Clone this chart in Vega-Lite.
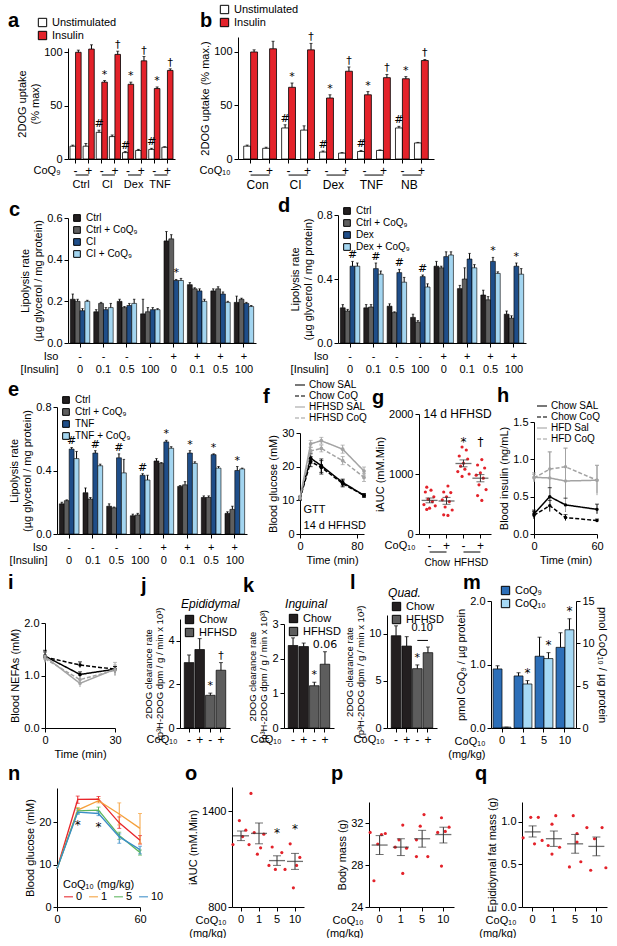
{
"$schema":"https://vega.github.io/schema/vega-lite/v6.json",
"background":"white",
"padding":{"left":8,"top":4,"right":0,"bottom":0},
"config":{
 "font":"Liberation Sans",
 "view":{"stroke":null},
 "axis":{"grid":false,"domainColor":"#000","tickColor":"#000","labelColor":"#000","titleColor":"#000","labelFontSize":11,"titleFontSize":11,"titleFontWeight":"normal","tickSize":4,"labelPadding":2,"titlePadding":3,"labelOverlap":false,"labelFlush":false,"labelAngle":0},
 "legend":{"labelFontSize":11,"titleFontSize":11,"titleFontWeight":"normal","rowPadding":0,"labelColor":"#000","titleColor":"#000","padding":0},
 "title":{"anchor":"start","frame":"group","fontSize":20,"fontWeight":"bold","color":"#000","offset":2},
 "text":{"fontSize":11,"color":"#000"}
},
"columns":1,
"spacing":5,
"resolve":{"scale":{"x":"independent","y":"independent","xOffset":"independent","fill":"independent","color":"independent","strokeDash":"independent","shape":"independent"}},
"concat":[
{"spacing":24,
 "resolve":{"scale":{"x":"independent","y":"independent","xOffset":"independent","fill":"independent","color":"independent","strokeDash":"independent","shape":"independent"}},
 "hconcat":[
 {"title":{"text":"a","dx":-60,"dy":16},
  "width":107,"height":122,
  "data":{"values":[
   {"p":"Ctrl -","s":"Unstimulated","v":12,"hi":13},
   {"p":"Ctrl -","s":"Insulin","v":100,"hi":102},
   {"p":"Ctrl +","s":"Unstimulated","v":12,"hi":14.5},
   {"p":"Ctrl +","s":"Insulin","v":103,"hi":107},
   {"p":"CI -","s":"Unstimulated","v":25,"hi":27,"mk":"#"},
   {"p":"CI -","s":"Insulin","v":72,"hi":73.5,"mk":"*"},
   {"p":"CI +","s":"Unstimulated","v":21,"hi":22.5},
   {"p":"CI +","s":"Insulin","v":98,"hi":101,"mk":"†"},
   {"p":"Dex -","s":"Unstimulated","v":6,"hi":7,"mk":"#"},
   {"p":"Dex -","s":"Insulin","v":70,"hi":72,"mk":"*"},
   {"p":"Dex +","s":"Unstimulated","v":8,"hi":9},
   {"p":"Dex +","s":"Insulin","v":92,"hi":96,"mk":"†"},
   {"p":"TNF -","s":"Unstimulated","v":9,"hi":10,"mk":"#"},
   {"p":"TNF -","s":"Insulin","v":66,"hi":67.5,"mk":"*"},
   {"p":"TNF +","s":"Unstimulated","v":11,"hi":11.5},
   {"p":"TNF +","s":"Insulin","v":83,"hi":84.5,"mk":"†"}
  ]},
  "layer":[
   {"mark":{"type":"bar","stroke":"#000","strokeWidth":0.8},
    "encoding":{
     "x":{"field":"p","type":"nominal","scale":{"domain":["Ctrl -","Ctrl +","CI -","CI +","Dex -","Dex +","TNF -","TNF +"],"paddingInner":0.15,"paddingOuter":0.15},"axis":{"title":"CoQ₉","labelExpr":"slice(datum.label,-1)","labelFontSize":12,"titleX":-8,"titleY":11,"titleAlign":"right","titleBaseline":"middle"}},
     "xOffset":{"field":"s","type":"nominal","scale":{"domain":["Unstimulated","Insulin"],"paddingInner":0}},
     "y":{"field":"v","type":"quantitative","scale":{"domain":[0,104],"range":[122,11],"nice":false},"axis":{"values":[0,50,100],"title":["2DOG uptake","(% max)"]}},
     "fill":{"field":"s","type":"nominal","scale":{"domain":["Unstimulated","Insulin"],"range":["#ffffff","#e3222a"]},"legend":{"orient":"none","legendX":-31,"legendY":-20,"title":null,"symbolType":"square","symbolSize":70,"symbolStrokeColor":"#000","symbolStrokeWidth":1}}
    }},
   {"mark":{"type":"rule","color":"#000"},"encoding":{"x":{"field":"p","type":"nominal"},"xOffset":{"field":"s","type":"nominal"},"y":{"field":"v","type":"quantitative"},"y2":{"field":"hi"}}},
   {"mark":{"type":"tick","color":"#000","size":3,"thickness":1},"encoding":{"x":{"field":"p","type":"nominal"},"xOffset":{"field":"s","type":"nominal"},"y":{"field":"hi","type":"quantitative"}}},
   {"transform":[{"filter":"isValid(datum.mk)"}],"mark":{"type":"text","dy":-6,"fontSize":11,"font":"DejaVu Sans","color":"#000"},"encoding":{"x":{"field":"p","type":"nominal"},"xOffset":{"field":"s","type":"nominal"},"y":{"field":"hi","type":"quantitative"},"text":{"field":"mk"}}},
   {"data":{"values":[{"p":"Ctrl -","q":"Ctrl +","g":"Ctrl"},{"p":"CI -","q":"CI +","g":"CI"},{"p":"Dex -","q":"Dex +","g":"Dex"},{"p":"TNF -","q":"TNF +","g":"TNF"}]},
    "layer":[
     {"mark":{"type":"rule","color":"#000"},"encoding":{"x":{"field":"p","type":"nominal"},"x2":{"field":"q"},"y":{"datum":-15}}},
     {"mark":{"type":"text","fontSize":11,"baseline":"middle","color":"#000"},"encoding":{"x":{"field":"p","type":"nominal","bandPosition":1},"y":{"datum":-24},"text":{"field":"g"}}}
    ]}
  ]},
 {"title":{"text":"b","dx":-38,"dy":29},
  "width":196,"height":122,
  "data":{"values":[
   {"p":"Con -","s":"Unstimulated","v":12,"hi":13},
   {"p":"Con -","s":"Insulin","v":100,"hi":102},
   {"p":"Con +","s":"Unstimulated","v":10,"hi":11},
   {"p":"Con +","s":"Insulin","v":103,"hi":110},
   {"p":"CI -","s":"Unstimulated","v":29,"hi":32,"mk":"#"},
   {"p":"CI -","s":"Insulin","v":67,"hi":71,"mk":"*"},
   {"p":"CI +","s":"Unstimulated","v":27,"hi":31},
   {"p":"CI +","s":"Insulin","v":102,"hi":108,"mk":"†"},
   {"p":"Dex -","s":"Unstimulated","v":6.5,"hi":7.5,"mk":"#"},
   {"p":"Dex -","s":"Insulin","v":57,"hi":60,"mk":"*"},
   {"p":"Dex +","s":"Unstimulated","v":5.5,"hi":6},
   {"p":"Dex +","s":"Insulin","v":82,"hi":86,"mk":"†"},
   {"p":"TNF -","s":"Unstimulated","v":7,"hi":8,"mk":"#"},
   {"p":"TNF -","s":"Insulin","v":60,"hi":63,"mk":"*"},
   {"p":"TNF +","s":"Unstimulated","v":8,"hi":8.5},
   {"p":"TNF +","s":"Insulin","v":76,"hi":79,"mk":"†"},
   {"p":"NB -","s":"Unstimulated","v":29,"hi":30.5,"mk":"#"},
   {"p":"NB -","s":"Insulin","v":75,"hi":77,"mk":"*"},
   {"p":"NB +","s":"Unstimulated","v":15,"hi":15.5},
   {"p":"NB +","s":"Insulin","v":92,"hi":93,"mk":"†"}
  ]},
  "layer":[
   {"mark":{"type":"bar","stroke":"#000","strokeWidth":0.8},
    "encoding":{
     "x":{"field":"p","type":"nominal","scale":{"domain":["Con -","Con +","CI -","CI +","Dex -","Dex +","TNF -","TNF +","NB -","NB +"],"paddingInner":0.27,"paddingOuter":0.3},"axis":{"title":"CoQ₁₀","labelExpr":"slice(datum.label,-1)","labelFontSize":12,"titleX":-8,"titleY":11,"titleAlign":"right","titleBaseline":"middle"}},
     "xOffset":{"field":"s","type":"nominal","scale":{"domain":["Unstimulated","Insulin"],"paddingInner":0}},
     "y":{"field":"v","type":"quantitative","scale":{"domain":[0,114],"range":[122,0],"nice":false},"axis":{"values":[0,50,100],"title":"2DOG uptake (% max.)"}},
     "fill":{"field":"s","type":"nominal","scale":{"domain":["Unstimulated","Insulin"],"range":["#ffffff","#e3222a"]},"legend":{"orient":"none","legendX":-19,"legendY":-33,"title":null,"symbolType":"square","symbolSize":70,"symbolStrokeColor":"#000","symbolStrokeWidth":1}}
    }},
   {"mark":{"type":"rule","color":"#000"},"encoding":{"x":{"field":"p","type":"nominal"},"xOffset":{"field":"s","type":"nominal"},"y":{"field":"v","type":"quantitative"},"y2":{"field":"hi"}}},
   {"mark":{"type":"tick","color":"#000","size":3,"thickness":1},"encoding":{"x":{"field":"p","type":"nominal"},"xOffset":{"field":"s","type":"nominal"},"y":{"field":"hi","type":"quantitative"}}},
   {"transform":[{"filter":"isValid(datum.mk)"}],"mark":{"type":"text","dy":-6,"fontSize":11,"font":"DejaVu Sans","color":"#000"},"encoding":{"x":{"field":"p","type":"nominal"},"xOffset":{"field":"s","type":"nominal"},"y":{"field":"hi","type":"quantitative"},"text":{"field":"mk"}}},
   {"data":{"values":[{"p":"Con -","q":"Con +","g":"Con"},{"p":"CI -","q":"CI +","g":"CI"},{"p":"Dex -","q":"Dex +","g":"Dex"},{"p":"TNF -","q":"TNF +","g":"TNF"},{"p":"NB -","q":"NB +","g":"NB"}]},
    "layer":[
     {"mark":{"type":"rule","color":"#000"},"encoding":{"x":{"field":"p","type":"nominal"},"x2":{"field":"q"},"y":{"datum":-15}}},
     {"mark":{"type":"text","fontSize":12,"baseline":"middle","color":"#000"},"encoding":{"x":{"field":"p","type":"nominal","bandPosition":1},"y":{"datum":-24},"text":{"field":"g"}}}
    ]}
  ]}
 ]},
{"spacing":22,
 "resolve":{"scale":{"x":"independent","y":"independent","xOffset":"independent","fill":"independent","color":"independent","strokeDash":"independent","shape":"independent"}},
 "hconcat":[
 {"title":{"text":"c","dx":-59,"dy":10},
  "width":188,"height":128,
  "data":{"values":[
   {"c":"-|0","s":"Ctrl","v":0.21,"hi":0.235},{"c":"-|0","s":"Ctrl + CoQ₉","v":0.2,"hi":0.21},{"c":"-|0","s":"CI","v":0.155,"hi":0.165},{"c":"-|0","s":"CI + CoQ₉","v":0.2,"hi":0.205},
   {"c":"-|0.1","s":"Ctrl","v":0.15,"hi":0.16},{"c":"-|0.1","s":"Ctrl + CoQ₉","v":0.19,"hi":0.195},{"c":"-|0.1","s":"CI","v":0.16,"hi":0.17},{"c":"-|0.1","s":"CI + CoQ₉","v":0.17,"hi":0.19},
   {"c":"-|0.5","s":"Ctrl","v":0.2,"hi":0.21},{"c":"-|0.5","s":"Ctrl + CoQ₉","v":0.17,"hi":0.175},{"c":"-|0.5","s":"CI","v":0.18,"hi":0.19},{"c":"-|0.5","s":"CI + CoQ₉","v":0.19,"hi":0.21},
   {"c":"-|100","s":"Ctrl","v":0.14,"hi":0.21},{"c":"-|100","s":"Ctrl + CoQ₉","v":0.15,"hi":0.17},{"c":"-|100","s":"CI","v":0.16,"hi":0.17},{"c":"-|100","s":"CI + CoQ₉","v":0.16,"hi":0.165},
   {"c":"+|0","s":"Ctrl","v":0.49,"hi":0.535},{"c":"+|0","s":"Ctrl + CoQ₉","v":0.5,"hi":0.52},{"c":"+|0","s":"CI","v":0.3,"hi":0.305,"mk":"*"},{"c":"+|0","s":"CI + CoQ₉","v":0.3,"hi":0.31},
   {"c":"+|0.1","s":"Ctrl","v":0.28,"hi":0.29},{"c":"+|0.1","s":"Ctrl + CoQ₉","v":0.26,"hi":0.265},{"c":"+|0.1","s":"CI","v":0.25,"hi":0.26},{"c":"+|0.1","s":"CI + CoQ₉","v":0.2,"hi":0.21},
   {"c":"+|0.5","s":"Ctrl","v":0.25,"hi":0.26},{"c":"+|0.5","s":"Ctrl + CoQ₉","v":0.26,"hi":0.27},{"c":"+|0.5","s":"CI","v":0.235,"hi":0.245},{"c":"+|0.5","s":"CI + CoQ₉","v":0.195,"hi":0.2},
   {"c":"+|100","s":"Ctrl","v":0.195,"hi":0.225},{"c":"+|100","s":"Ctrl + CoQ₉","v":0.21,"hi":0.215},{"c":"+|100","s":"CI","v":0.19,"hi":0.195},{"c":"+|100","s":"CI + CoQ₉","v":0.175,"hi":0.18}
  ]},
  "layer":[
   {"mark":{"type":"bar","stroke":"#000","strokeWidth":0.6},
    "encoding":{
     "x":{"field":"c","type":"nominal","scale":{"domain":["-|0","-|0.1","-|0.5","-|100","+|0","+|0.1","+|0.5","+|100"],"paddingInner":0.17,"paddingOuter":0.1},"axis":{"title":["Iso","[Insulin]"],"labelExpr":"split(datum.value,'|')","labelLineHeight":13,"labelPadding":3,"titleX":-10,"titleY":7,"titleAlign":"right","titleBaseline":"top","titleLineHeight":13}},
     "xOffset":{"field":"s","type":"nominal","scale":{"domain":["Ctrl","Ctrl + CoQ₉","CI","CI + CoQ₉"],"paddingInner":0}},
     "y":{"field":"v","type":"quantitative","scale":{"domain":[0,0.6],"range":[128,3],"nice":false},"axis":{"values":[0,0.2,0.4,0.6],"format":".1f","title":["Lipolysis rate","(µg glycerol / mg protein)"]}},
     "fill":{"field":"s","type":"nominal","scale":{"domain":["Ctrl","Ctrl + CoQ₉","CI","CI + CoQ₉"],"range":["#231f20","#5f5f5f","#1f4e89","#a3d5f0"]},"legend":{"orient":"none","legendX":4,"legendY":-2,"title":null,"symbolType":"square","symbolSize":45,"symbolStrokeColor":"#000","symbolStrokeWidth":1,"labelFontSize":10,"rowPadding":0}}
    }},
   {"mark":{"type":"rule","color":"#000"},"encoding":{"x":{"field":"c","type":"nominal"},"xOffset":{"field":"s","type":"nominal"},"y":{"field":"v","type":"quantitative"},"y2":{"field":"hi"}}},
   {"mark":{"type":"tick","color":"#000","size":2.5,"thickness":1},"encoding":{"x":{"field":"c","type":"nominal"},"xOffset":{"field":"s","type":"nominal"},"y":{"field":"hi","type":"quantitative"}}},
   {"transform":[{"filter":"isValid(datum.mk)"}],"mark":{"type":"text","dy":-6,"fontSize":11,"font":"DejaVu Sans","color":"#000"},"encoding":{"x":{"field":"c","type":"nominal"},"xOffset":{"field":"s","type":"nominal"},"y":{"field":"hi","type":"quantitative"},"text":{"field":"mk"}}}
  ]},
 {"title":{"text":"d","dx":-60,"dy":12},
  "width":188,"height":128,
  "data":{"values":[
   {"c":"-|0","s":"Ctrl","v":0.22,"hi":0.24},{"c":"-|0","s":"Ctrl + CoQ₉","v":0.2,"hi":0.21},{"c":"-|0","s":"Dex","v":0.48,"hi":0.51,"mk":"#"},{"c":"-|0","s":"Dex + CoQ₉","v":0.48,"hi":0.5},
   {"c":"-|0.1","s":"Ctrl","v":0.22,"hi":0.24},{"c":"-|0.1","s":"Ctrl + CoQ₉","v":0.225,"hi":0.24},{"c":"-|0.1","s":"Dex","v":0.465,"hi":0.5,"mk":"#"},{"c":"-|0.1","s":"Dex + CoQ₉","v":0.43,"hi":0.45},
   {"c":"-|0.5","s":"Ctrl","v":0.23,"hi":0.245},{"c":"-|0.5","s":"Ctrl + CoQ₉","v":0.19,"hi":0.195},{"c":"-|0.5","s":"Dex","v":0.44,"hi":0.46,"mk":"#"},{"c":"-|0.5","s":"Dex + CoQ₉","v":0.38,"hi":0.41},
   {"c":"-|100","s":"Ctrl","v":0.16,"hi":0.18},{"c":"-|100","s":"Ctrl + CoQ₉","v":0.13,"hi":0.14},{"c":"-|100","s":"Dex","v":0.415,"hi":0.425,"mk":"#"},{"c":"-|100","s":"Dex + CoQ₉","v":0.35,"hi":0.37},
   {"c":"+|0","s":"Ctrl","v":0.48,"hi":0.51},{"c":"+|0","s":"Ctrl + CoQ₉","v":0.47,"hi":0.48},{"c":"+|0","s":"Dex","v":0.54,"hi":0.57},{"c":"+|0","s":"Dex + CoQ₉","v":0.55,"hi":0.57},
   {"c":"+|0.1","s":"Ctrl","v":0.34,"hi":0.36},{"c":"+|0.1","s":"Ctrl + CoQ₉","v":0.4,"hi":0.47},{"c":"+|0.1","s":"Dex","v":0.525,"hi":0.56},{"c":"+|0.1","s":"Dex + CoQ₉","v":0.47,"hi":0.49},
   {"c":"+|0.5","s":"Ctrl","v":0.3,"hi":0.33},{"c":"+|0.5","s":"Ctrl + CoQ₉","v":0.27,"hi":0.29},{"c":"+|0.5","s":"Dex","v":0.51,"hi":0.535,"mk":"*"},{"c":"+|0.5","s":"Dex + CoQ₉","v":0.435,"hi":0.445},
   {"c":"+|100","s":"Ctrl","v":0.18,"hi":0.2},{"c":"+|100","s":"Ctrl + CoQ₉","v":0.155,"hi":0.17},{"c":"+|100","s":"Dex","v":0.48,"hi":0.5,"mk":"*"},{"c":"+|100","s":"Dex + CoQ₉","v":0.43,"hi":0.465}
  ]},
  "layer":[
   {"mark":{"type":"bar","stroke":"#000","strokeWidth":0.6},
    "encoding":{
     "x":{"field":"c","type":"nominal","scale":{"domain":["-|0","-|0.1","-|0.5","-|100","+|0","+|0.1","+|0.5","+|100"],"paddingInner":0.17,"paddingOuter":0.1},"axis":{"title":["Iso","[Insulin]"],"labelExpr":"split(datum.value,'|')","labelLineHeight":13,"labelPadding":3,"titleX":-10,"titleY":7,"titleAlign":"right","titleBaseline":"top","titleLineHeight":13}},
     "xOffset":{"field":"s","type":"nominal","scale":{"domain":["Ctrl","Ctrl + CoQ₉","Dex","Dex + CoQ₉"],"paddingInner":0}},
     "y":{"field":"v","type":"quantitative","scale":{"domain":[0,0.8],"range":[128,0],"nice":false},"axis":{"values":[0,0.2,0.4,0.6,0.8],"format":".1f","title":["Lipolysis rate","(µg glycerol / mg protein)"]}},
     "fill":{"field":"s","type":"nominal","scale":{"domain":["Ctrl","Ctrl + CoQ₉","Dex","Dex + CoQ₉"],"range":["#231f20","#5f5f5f","#1f4e89","#a3d5f0"]},"legend":{"orient":"none","legendX":4,"legendY":-9,"title":null,"symbolType":"square","symbolSize":45,"symbolStrokeColor":"#000","symbolStrokeWidth":1,"labelFontSize":10,"rowPadding":0}}
    }},
   {"mark":{"type":"rule","color":"#000"},"encoding":{"x":{"field":"c","type":"nominal"},"xOffset":{"field":"s","type":"nominal"},"y":{"field":"v","type":"quantitative"},"y2":{"field":"hi"}}},
   {"mark":{"type":"tick","color":"#000","size":2.5,"thickness":1},"encoding":{"x":{"field":"c","type":"nominal"},"xOffset":{"field":"s","type":"nominal"},"y":{"field":"hi","type":"quantitative"}}},
   {"transform":[{"filter":"isValid(datum.mk)"}],"mark":{"type":"text","dy":-6,"fontSize":11,"font":"DejaVu Sans","color":"#000"},"encoding":{"x":{"field":"c","type":"nominal"},"xOffset":{"field":"s","type":"nominal"},"y":{"field":"hi","type":"quantitative"},"text":{"field":"mk"}}}
  ]}
 ]},
{"spacing":5,
 "resolve":{"scale":{"x":"independent","y":"independent","xOffset":"independent","fill":"independent","color":"independent","strokeDash":"independent","shape":"independent"}},
 "hconcat":[
 {"title":{"text":"e","dx":-60,"dy":7},
  "width":179,"height":130,
  "data":{"values":[
   {"c":"-|0","s":"Ctrl","v":0.19,"hi":0.2},{"c":"-|0","s":"Ctrl + CoQ₉","v":0.21,"hi":0.215},{"c":"-|0","s":"TNF","v":0.535,"hi":0.545,"mk":"#"},{"c":"-|0","s":"TNF + CoQ₉","v":0.475,"hi":0.52},
   {"c":"-|0.1","s":"Ctrl","v":0.26,"hi":0.29},{"c":"-|0.1","s":"Ctrl + CoQ₉","v":0.22,"hi":0.23},{"c":"-|0.1","s":"TNF","v":0.51,"hi":0.525,"mk":"#"},{"c":"-|0.1","s":"TNF + CoQ₉","v":0.43,"hi":0.44},
   {"c":"-|0.5","s":"Ctrl","v":0.175,"hi":0.19},{"c":"-|0.5","s":"Ctrl + CoQ₉","v":0.165,"hi":0.17},{"c":"-|0.5","s":"TNF","v":0.48,"hi":0.505,"mk":"#"},{"c":"-|0.5","s":"TNF + CoQ₉","v":0.385,"hi":0.47},
   {"c":"-|100","s":"Ctrl","v":0.115,"hi":0.125},{"c":"-|100","s":"Ctrl + CoQ₉","v":0.12,"hi":0.13},{"c":"-|100","s":"TNF","v":0.37,"hi":0.38,"mk":"#"},{"c":"-|100","s":"TNF + CoQ₉","v":0.34,"hi":0.37},
   {"c":"+|0","s":"Ctrl","v":0.46,"hi":0.475},{"c":"+|0","s":"Ctrl + CoQ₉","v":0.445,"hi":0.45},{"c":"+|0","s":"TNF","v":0.58,"hi":0.59,"mk":"*"},{"c":"+|0","s":"TNF + CoQ₉","v":0.54,"hi":0.55},
   {"c":"+|0.1","s":"Ctrl","v":0.3,"hi":0.305},{"c":"+|0.1","s":"Ctrl + CoQ₉","v":0.31,"hi":0.33},{"c":"+|0.1","s":"TNF","v":0.51,"hi":0.525,"mk":"*"},{"c":"+|0.1","s":"TNF + CoQ₉","v":0.445,"hi":0.455},
   {"c":"+|0.5","s":"Ctrl","v":0.23,"hi":0.24},{"c":"+|0.5","s":"Ctrl + CoQ₉","v":0.23,"hi":0.24},{"c":"+|0.5","s":"TNF","v":0.5,"hi":0.505,"mk":"*"},{"c":"+|0.5","s":"TNF + CoQ₉","v":0.415,"hi":0.425},
   {"c":"+|100","s":"Ctrl","v":0.13,"hi":0.14},{"c":"+|100","s":"Ctrl + CoQ₉","v":0.155,"hi":0.175},{"c":"+|100","s":"TNF","v":0.4,"hi":0.425,"mk":"*"},{"c":"+|100","s":"TNF + CoQ₉","v":0.41,"hi":0.415}
  ]},
  "layer":[
   {"mark":{"type":"bar","stroke":"#000","strokeWidth":0.6},
    "encoding":{
     "x":{"field":"c","type":"nominal","scale":{"domain":["-|0","-|0.1","-|0.5","-|100","+|0","+|0.1","+|0.5","+|100"],"range":[-11,179],"paddingInner":0.17,"paddingOuter":0.1},"axis":{"title":["Iso","[Insulin]"],"labelExpr":"split(datum.value,'|')","labelLineHeight":13,"labelPadding":3,"titleX":-21,"titleY":7,"titleAlign":"right","titleBaseline":"top","titleLineHeight":13}},
     "xOffset":{"field":"s","type":"nominal","scale":{"domain":["Ctrl","Ctrl + CoQ₉","TNF","TNF + CoQ₉"],"paddingInner":0}},
     "y":{"field":"v","type":"quantitative","scale":{"domain":[0,0.8],"range":[130,3],"nice":false},"axis":{"offset":11,"values":[0,0.2,0.4,0.6,0.8],"format":".1f","title":["Lipolysis rate","(µg glycerol / mg protein)"]}},
     "fill":{"field":"s","type":"nominal","scale":{"domain":["Ctrl","Ctrl + CoQ₉","TNF","TNF + CoQ₉"],"range":["#231f20","#5f5f5f","#1f4e89","#a3d5f0"]},"legend":{"orient":"none","legendX":-7,"legendY":-9,"title":null,"symbolType":"square","symbolSize":45,"symbolStrokeColor":"#000","symbolStrokeWidth":1,"labelFontSize":10,"rowPadding":0}}
    }},
   {"mark":{"type":"rule","color":"#000"},"encoding":{"x":{"field":"c","type":"nominal"},"xOffset":{"field":"s","type":"nominal"},"y":{"field":"v","type":"quantitative"},"y2":{"field":"hi"}}},
   {"mark":{"type":"tick","color":"#000","size":2.5,"thickness":1},"encoding":{"x":{"field":"c","type":"nominal"},"xOffset":{"field":"s","type":"nominal"},"y":{"field":"hi","type":"quantitative"}}},
   {"transform":[{"filter":"isValid(datum.mk)"}],"mark":{"type":"text","dy":-6,"fontSize":11,"font":"DejaVu Sans","color":"#000"},"encoding":{"x":{"field":"c","type":"nominal"},"xOffset":{"field":"s","type":"nominal"},"y":{"field":"hi","type":"quantitative"},"text":{"field":"mk"}}}
  ]},
 {"title":{"text":"f","dx":-37,"dy":30},
  "width":64,"height":130,
  "data":{"values":[
   {"s":"Chow SAL","t":0,"v":10.7,"lo":10.2,"hi":11.2},{"s":"Chow SAL","t":15,"v":22.5,"lo":21,"hi":24},{"s":"Chow SAL","t":30,"v":20.3,"lo":18.3,"hi":22.3},{"s":"Chow SAL","t":60,"v":15.3,"lo":14.3,"hi":16.3},{"s":"Chow SAL","t":90,"v":11.5,"lo":11,"hi":12},
   {"s":"Chow CoQ","t":0,"v":10.5,"lo":10,"hi":11},{"s":"Chow CoQ","t":15,"v":21.5,"lo":20,"hi":23},{"s":"Chow CoQ","t":30,"v":19.8,"lo":17.8,"hi":21.8},{"s":"Chow CoQ","t":60,"v":15,"lo":14,"hi":16},{"s":"Chow CoQ","t":90,"v":11.4,"lo":10.9,"hi":11.9},
   {"s":"HFHSD SAL","t":0,"v":10.8,"lo":10.3,"hi":11.3},{"s":"HFHSD SAL","t":15,"v":26.8,"lo":25.8,"hi":27.8},{"s":"HFHSD SAL","t":30,"v":27.7,"lo":26.7,"hi":28.7},{"s":"HFHSD SAL","t":60,"v":25.2,"lo":24,"hi":26.4},{"s":"HFHSD SAL","t":90,"v":18.7,"lo":17.5,"hi":19.9},
   {"s":"HFHSD CoQ","t":0,"v":10.6,"lo":10.1,"hi":11.1},{"s":"HFHSD CoQ","t":15,"v":24.7,"lo":23.7,"hi":25.7},{"s":"HFHSD CoQ","t":30,"v":25.4,"lo":24.4,"hi":26.4},{"s":"HFHSD CoQ","t":60,"v":21.8,"lo":20.6,"hi":23},{"s":"HFHSD CoQ","t":90,"v":16.8,"lo":15.6,"hi":18}
  ]},
  "layer":[
   {"mark":{"type":"rule","strokeWidth":1},"encoding":{
     "x":{"field":"t","type":"quantitative","scale":{"domain":[0,90],"nice":false},"axis":{"values":[0,20,40,60,80],"title":"Time (min)"}},
     "y":{"field":"lo","type":"quantitative","scale":{"domain":[0,30],"range":[130,29],"nice":false},"axis":{"values":[0,10,20,30],"title":"Blood glucose (mM)"}},
     "y2":{"field":"hi"},
     "color":{"field":"s","type":"nominal","scale":{"domain":["Chow SAL","Chow CoQ","HFHSD SAL","HFHSD CoQ"],"range":["#000000","#000000","#a3a3a3","#a3a3a3"]}}}},
   {"mark":{"type":"tick","orient":"horizontal","size":4,"thickness":1},"encoding":{"x":{"field":"t","type":"quantitative"},"y":{"field":"hi","type":"quantitative"},"color":{"field":"s","type":"nominal"}}},
   {"mark":{"type":"tick","orient":"horizontal","size":4,"thickness":1},"encoding":{"x":{"field":"t","type":"quantitative"},"y":{"field":"lo","type":"quantitative"},"color":{"field":"s","type":"nominal"}}},
   {"mark":{"type":"line","strokeWidth":1.5,"point":{"size":14,"filled":true}},"encoding":{
     "x":{"field":"t","type":"quantitative"},
     "y":{"field":"v","type":"quantitative"},
     "color":{"field":"s","type":"nominal","legend":{"orient":"none","legendX":-6,"legendY":-25,"title":null,"symbolType":"stroke","symbolSize":100,"symbolStrokeWidth":1.5,"labelFontSize":10,"labelOffset":3,"rowPadding":0}},
     "strokeDash":{"field":"s","type":"nominal","scale":{"domain":["Chow SAL","Chow CoQ","HFHSD SAL","HFHSD CoQ"],"range":[[1,0],[4,2],[1,0],[4,2]]},"legend":{"orient":"none","legendX":-6,"legendY":-25,"title":null,"symbolType":"stroke","symbolSize":100,"symbolStrokeWidth":1.5,"labelFontSize":10,"labelOffset":3,"rowPadding":0}}}},
   {"data":{"values":[{}]},"mark":{"type":"text","align":"left","baseline":"middle","fontSize":11,"color":"#000","text":"GTT"},"encoding":{"x":{"datum":5},"y":{"datum":7}}},
   {"data":{"values":[{}]},"mark":{"type":"text","align":"left","baseline":"middle","fontSize":11,"color":"#000","text":"14 d HFHSD"},"encoding":{"x":{"datum":5},"y":{"datum":2.5}}}
  ]},
 {"title":{"text":"g","dx":-47,"dy":6},
  "width":72,"height":130,
  "data":{"values":[
   {"g":"Chow -","k":"3","v":780},{"g":"Chow -","k":"6","v":730},{"g":"Chow -","k":"2","v":700},{"g":"Chow -","k":"8","v":620},{"g":"Chow -","k":"4","v":580},{"g":"Chow -","k":"7","v":540},{"g":"Chow -","k":"1","v":490},{"g":"Chow -","k":"9","v":470},{"g":"Chow -","k":"5","v":430},{"g":"Chow -","k":"3","v":410},
   {"g":"Chow +","k":"6","v":800},{"g":"Chow +","k":"3","v":700},{"g":"Chow +","k":"8","v":690},{"g":"Chow +","k":"5","v":620},{"g":"Chow +","k":"2","v":570},{"g":"Chow +","k":"7","v":540},{"g":"Chow +","k":"4","v":450},{"g":"Chow +","k":"9","v":400},{"g":"Chow +","k":"3","v":320},{"g":"Chow +","k":"6","v":310},
   {"g":"HFHSD -","k":"4","v":1450},{"g":"HFHSD -","k":"7","v":1400},{"g":"HFHSD -","k":"2","v":1300},{"g":"HFHSD -","k":"8","v":1250},{"g":"HFHSD -","k":"5","v":1180},{"g":"HFHSD -","k":"3","v":1130},{"g":"HFHSD -","k":"6","v":1080},{"g":"HFHSD -","k":"1","v":1040},{"g":"HFHSD -","k":"9","v":1000},{"g":"HFHSD -","k":"4","v":960},
   {"g":"HFHSD +","k":"6","v":1240},{"g":"HFHSD +","k":"3","v":1150},{"g":"HFHSD +","k":"8","v":1100},{"g":"HFHSD +","k":"5","v":1020},{"g":"HFHSD +","k":"2","v":980},{"g":"HFHSD +","k":"7","v":930},{"g":"HFHSD +","k":"4","v":820},{"g":"HFHSD +","k":"9","v":740},{"g":"HFHSD +","k":"3","v":640},{"g":"HFHSD +","k":"6","v":560}
  ]},
  "layer":[
   {"mark":{"type":"circle","size":10,"opacity":1,"color":"#e3222a"},"encoding":{
     "x":{"field":"g","type":"nominal","scale":{"domain":["Chow -","Chow +","HFHSD -","HFHSD +"],"paddingInner":0.25,"paddingOuter":0.25},"axis":{"title":"CoQ₁₀","labelExpr":"slice(datum.label,-1)","labelFontSize":12,"titleX":-4,"titleY":11,"titleAlign":"right","titleBaseline":"middle"}},
     "xOffset":{"field":"k","type":"nominal","scale":{"domain":["1","2","3","4","5","6","7","8","9"]}},
     "y":{"field":"v","type":"quantitative","scale":{"domain":[0,2000],"range":[130,10],"nice":false},"axis":{"values":[0,500,1000,1500,2000],"format":"d","title":"iAUC (mM.Min)"}}}},
   {"data":{"values":[
     {"g":"Chow -","m":560,"lo":520,"hi":600},{"g":"Chow +","m":550,"lo":495,"hi":610},{"g":"HFHSD -","m":1175,"lo":1120,"hi":1235,"mk":"*","mt":1530},{"g":"HFHSD +","m":930,"lo":870,"hi":990,"mk":"†","mt":1530}]},
    "layer":[
     {"mark":{"type":"tick","size":16,"thickness":1.3,"color":"#333"},"encoding":{"x":{"field":"g","type":"nominal"},"y":{"field":"m","type":"quantitative"}}},
     {"mark":{"type":"rule","color":"#333"},"encoding":{"x":{"field":"g","type":"nominal"},"y":{"field":"lo","type":"quantitative"},"y2":{"field":"hi"}}},
     {"mark":{"type":"tick","size":8,"thickness":1,"color":"#333"},"encoding":{"x":{"field":"g","type":"nominal"},"y":{"field":"lo","type":"quantitative"}}},
     {"mark":{"type":"tick","size":8,"thickness":1,"color":"#333"},"encoding":{"x":{"field":"g","type":"nominal"},"y":{"field":"hi","type":"quantitative"}}},
     {"transform":[{"filter":"isValid(datum.mk)"}],"mark":{"type":"text","fontSize":12,"baseline":"middle","font":"DejaVu Sans","color":"#000"},"encoding":{"x":{"field":"g","type":"nominal"},"y":{"field":"mt","type":"quantitative"},"text":{"field":"mk"}}}
    ]},
   {"data":{"values":[{}]},"mark":{"type":"text","align":"left","baseline":"middle","fontSize":12,"dx":-6,"color":"#000","text":"14 d HFHSD"},"encoding":{"x":{"datum":"Chow -"},"y":{"datum":2000}}},
   {"data":{"values":[{"g":"Chow -","q":"Chow +","n":"Chow"},{"g":"HFHSD -","q":"HFHSD +","n":"HFHSD"}]},
    "layer":[
     {"mark":{"type":"rule","color":"#000"},"encoding":{"x":{"field":"g","type":"nominal"},"x2":{"field":"q"},"y":{"datum":-300}}},
     {"mark":{"type":"text","fontSize":10,"baseline":"middle","color":"#000"},"encoding":{"x":{"field":"g","type":"nominal","bandPosition":1.1},"y":{"datum":-480},"text":{"field":"n"}}}
    ]}
  ]},
 {"title":{"text":"h","dx":-37,"dy":8},
  "width":63,"height":130,
  "data":{"values":[
   {"s":"Chow SAL","t":0,"v":0.27,"lo":0.22,"hi":0.32},{"s":"Chow SAL","t":15,"v":0.5,"lo":0.38,"hi":0.62},{"s":"Chow SAL","t":30,"v":0.39,"lo":0.3,"hi":0.48},{"s":"Chow SAL","t":60,"v":0.33,"lo":0.27,"hi":0.4},
   {"s":"Chow CoQ","t":0,"v":0.25,"lo":0.2,"hi":0.3},{"s":"Chow CoQ","t":15,"v":0.38,"lo":0.3,"hi":0.45},{"s":"Chow CoQ","t":30,"v":0.22,"lo":0.18,"hi":0.26},{"s":"Chow CoQ","t":60,"v":0.18,"lo":0.16,"hi":0.2},
   {"s":"HFD Sal","t":0,"v":0.76,"lo":0.7,"hi":0.82},{"s":"HFD Sal","t":15,"v":0.75,"lo":0.4,"hi":1.1},{"s":"HFD Sal","t":30,"v":0.71,"lo":0.3,"hi":1.15},{"s":"HFD Sal","t":60,"v":0.72,"lo":0.52,"hi":0.92},
   {"s":"HFD CoQ","t":0,"v":0.75,"lo":0.7,"hi":0.8},{"s":"HFD CoQ","t":15,"v":0.87,"lo":0.6,"hi":1.1},{"s":"HFD CoQ","t":30,"v":0.9,"lo":0.6,"hi":1.15},{"s":"HFD CoQ","t":60,"v":0.72,"lo":0.55,"hi":0.92}
  ]},
  "layer":[
   {"mark":{"type":"rule","strokeWidth":1},"encoding":{
     "x":{"field":"t","type":"quantitative","scale":{"domain":[0,60],"nice":false},"axis":{"values":[0,20,40,60],"title":"Time (min)"}},
     "y":{"field":"lo","type":"quantitative","scale":{"domain":[0,1.5],"range":[130,18],"nice":false},"axis":{"values":[0,0.5,1,1.5],"format":".1f","title":"Blood insulin (ng/mL)"}},
     "y2":{"field":"hi"},
     "color":{"field":"s","type":"nominal","scale":{"domain":["Chow SAL","Chow CoQ","HFD Sal","HFD CoQ"],"range":["#000000","#000000","#a3a3a3","#a3a3a3"]}}}},
   {"mark":{"type":"tick","orient":"horizontal","size":4,"thickness":1},"encoding":{"x":{"field":"t","type":"quantitative"},"y":{"field":"hi","type":"quantitative"},"color":{"field":"s","type":"nominal"}}},
   {"mark":{"type":"line","strokeWidth":1.5,"point":{"size":12,"filled":true}},"encoding":{
     "x":{"field":"t","type":"quantitative"},
     "y":{"field":"v","type":"quantitative"},
     "color":{"field":"s","type":"nominal","legend":{"orient":"none","legendX":2,"legendY":-4,"title":null,"symbolType":"stroke","symbolSize":100,"symbolStrokeWidth":1.5,"labelFontSize":10,"labelOffset":3,"rowPadding":-1}},
     "strokeDash":{"field":"s","type":"nominal","scale":{"domain":["Chow SAL","Chow CoQ","HFD Sal","HFD CoQ"],"range":[[1,0],[4,2],[1,0],[4,2]]},"legend":{"orient":"none","legendX":2,"legendY":-4,"title":null,"symbolType":"stroke","symbolSize":100,"symbolStrokeWidth":1.5,"labelFontSize":10,"labelOffset":3,"rowPadding":-1}}}}
  ]}
 ]},
{"spacing":3,
 "resolve":{"scale":{"x":"independent","y":"independent","xOffset":"independent","fill":"independent","color":"independent","strokeDash":"independent","shape":"independent"}},
 "hconcat":[
 {"title":{"text":"i","dx":-60,"dy":-6},
  "width":47,"height":127,
  "data":{"values":[
   {"s":"Chow SAL","t":0,"v":1.37,"lo":1.3,"hi":1.45},{"s":"Chow SAL","t":15,"v":1.02,"lo":0.97,"hi":1.07},{"s":"Chow SAL","t":30,"v":1.12,"lo":1.07,"hi":1.17},
   {"s":"Chow CoQ","t":0,"v":1.35,"lo":1.28,"hi":1.48},{"s":"Chow CoQ","t":15,"v":1.2,"lo":1.15,"hi":1.26},{"s":"Chow CoQ","t":30,"v":1.12,"lo":1.05,"hi":1.17},
   {"s":"HFD Sal","t":0,"v":1.36,"lo":1.25,"hi":1.45},{"s":"HFD Sal","t":15,"v":0.85,"lo":0.78,"hi":1.0},{"s":"HFD Sal","t":30,"v":1.12,"lo":1.0,"hi":1.25},
   {"s":"HFD CoQ","t":0,"v":1.32,"lo":1.25,"hi":1.4},{"s":"HFD CoQ","t":15,"v":0.92,"lo":0.85,"hi":1.0},{"s":"HFD CoQ","t":30,"v":1.1,"lo":1.0,"hi":1.2}
  ]},
  "layer":[
   {"mark":{"type":"rule","strokeWidth":1},"encoding":{
     "x":{"field":"t","type":"quantitative","scale":{"domain":[0,30],"range":[-23,47],"nice":false},"axis":{"values":[0,15,30],"title":"Time (min)"}},
     "y":{"field":"lo","type":"quantitative","scale":{"domain":[0,2],"range":[127,22],"nice":false},"axis":{"offset":23,"values":[0,0.5,1,1.5,2],"format":".1f","title":"Blood NEFAs (mM)"}},
     "y2":{"field":"hi"},
     "color":{"field":"s","type":"nominal","scale":{"domain":["Chow SAL","Chow CoQ","HFD Sal","HFD CoQ"],"range":["#000000","#000000","#a3a3a3","#a3a3a3"]},"legend":null}}},
   {"mark":{"type":"tick","orient":"horizontal","size":4,"thickness":1},"encoding":{"x":{"field":"t","type":"quantitative"},"y":{"field":"hi","type":"quantitative"},"color":{"field":"s","type":"nominal","legend":null}}},
   {"mark":{"type":"line","strokeWidth":1.5,"point":{"size":12,"filled":true}},"encoding":{
     "x":{"field":"t","type":"quantitative"},
     "y":{"field":"v","type":"quantitative"},
     "color":{"field":"s","type":"nominal","legend":null},
     "strokeDash":{"field":"s","type":"nominal","scale":{"domain":["Chow SAL","Chow CoQ","HFD Sal","HFD CoQ"],"range":[[1,0],[4,2],[1,0],[4,2]]},"legend":null}}}
  ]},
 {"title":{"text":"j","dx":-39,"dy":0},
  "width":50,"height":127,
  "data":{"values":[
   {"c":"Chow -","d":"Chow","v":3.0,"hi":3.35},{"c":"Chow +","d":"Chow","v":3.6,"hi":4.1},{"c":"HFHSD -","d":"HFHSD","v":1.5,"hi":1.6,"mk":"*"},{"c":"HFHSD +","d":"HFHSD","v":2.65,"hi":3.0,"mk":"†"}
  ]},
  "layer":[
   {"mark":{"type":"bar","stroke":"#000","strokeWidth":0.7},"encoding":{
     "x":{"field":"c","type":"nominal","scale":{"domain":["Chow -","Chow +","HFHSD -","HFHSD +"],"paddingInner":0.1,"paddingOuter":0.4},"axis":{"title":"CoQ₁₀","labelExpr":"slice(datum.label,-1)","labelFontSize":12,"titleX":-3,"titleY":11,"titleAlign":"right","titleBaseline":"middle"}},
     "y":{"field":"v","type":"quantitative","scale":{"domain":[0,5],"range":[127,18],"nice":false},"axis":{"values":[0,1,2,3,4,5],"title":["2DOG clearance rate","(p³H-2DOG dpm / g / min x 10³)"],"titleFontSize":9.5,"titleLineHeight":11}},
     "fill":{"field":"d","type":"nominal","scale":{"domain":["Chow","HFHSD"],"range":["#231f20","#5d5d5d"]},"legend":{"orient":"none","legendX":4,"legendY":13,"title":null,"symbolType":"square","symbolSize":70,"symbolStrokeColor":"#000","symbolStrokeWidth":1}}}},
   {"mark":{"type":"rule","color":"#000"},"encoding":{"x":{"field":"c","type":"nominal"},"y":{"field":"v","type":"quantitative"},"y2":{"field":"hi"}}},
   {"mark":{"type":"tick","color":"#000","size":4,"thickness":1},"encoding":{"x":{"field":"c","type":"nominal"},"y":{"field":"hi","type":"quantitative"}}},
   {"transform":[{"filter":"isValid(datum.mk)"}],"mark":{"type":"text","dy":-7,"fontSize":11,"font":"DejaVu Sans","color":"#000"},"encoding":{"x":{"field":"c","type":"nominal"},"y":{"field":"hi","type":"quantitative"},"text":{"field":"mk"}}},
   {"data":{"values":[{}]},"mark":{"type":"text","align":"left","baseline":"middle","fontSize":12,"fontStyle":"italic","dx":-8,"color":"#000","text":"Epididymal"},"encoding":{"x":{"datum":"Chow -"},"y":{"datum":5.7}}}
  ]},
 {"title":{"text":"k","dx":-41,"dy":0},
  "width":50,"height":127,
  "data":{"values":[
   {"c":"Chow -","d":"Chow","v":2.38,"hi":2.6},{"c":"Chow +","d":"Chow","v":2.35,"hi":2.45},{"c":"HFHSD -","d":"HFHSD","v":1.22,"hi":1.32,"mk":"*"},{"c":"HFHSD +","d":"HFHSD","v":1.84,"hi":2.2,"mk":"0.06"}
  ]},
  "layer":[
   {"mark":{"type":"bar","stroke":"#000","strokeWidth":0.7},"encoding":{
     "x":{"field":"c","type":"nominal","scale":{"domain":["Chow -","Chow +","HFHSD -","HFHSD +"],"paddingInner":0.1,"paddingOuter":0.4},"axis":{"title":"CoQ₁₀","labelExpr":"slice(datum.label,-1)","labelFontSize":12,"titleX":-3,"titleY":11,"titleAlign":"right","titleBaseline":"middle"}},
     "y":{"field":"v","type":"quantitative","scale":{"domain":[0,3],"range":[127,23],"nice":false},"axis":{"values":[0,1,2,3],"title":["2DOG clearance rate","(p³H-2DOG dpm / g / min x 10³)"],"titleFontSize":9.5,"titleLineHeight":11}},
     "fill":{"field":"d","type":"nominal","scale":{"domain":["Chow","HFHSD"],"range":["#231f20","#5d5d5d"]},"legend":{"orient":"none","legendX":4,"legendY":12,"title":null,"symbolType":"square","symbolSize":70,"symbolStrokeColor":"#000","symbolStrokeWidth":1}}}},
   {"mark":{"type":"rule","color":"#000"},"encoding":{"x":{"field":"c","type":"nominal"},"y":{"field":"v","type":"quantitative"},"y2":{"field":"hi"}}},
   {"mark":{"type":"tick","color":"#000","size":4,"thickness":1},"encoding":{"x":{"field":"c","type":"nominal"},"y":{"field":"hi","type":"quantitative"}}},
   {"transform":[{"filter":"isValid(datum.mk)"}],"mark":{"type":"text","dy":-7,"fontSize":11,"font":"DejaVu Sans","color":"#000"},"encoding":{"x":{"field":"c","type":"nominal"},"y":{"field":"hi","type":"quantitative"},"text":{"field":"mk"}}},
   {"data":{"values":[{}]},"mark":{"type":"text","align":"left","baseline":"middle","fontSize":12,"fontStyle":"italic","dx":-8,"color":"#000","text":"Inguinal"},"encoding":{"x":{"datum":"Chow -"},"y":{"datum":3.57}}}
  ]},
 {"title":{"text":"l","dx":-37,"dy":8},
  "width":50,"height":127,
  "data":{"values":[
   {"c":"Chow -","d":"Chow","v":9.8,"hi":10.85},{"c":"Chow +","d":"Chow","v":8.7,"hi":9.7},{"c":"HFHSD -","d":"HFHSD","v":6.3,"hi":6.7,"mk":"*"},{"c":"HFHSD +","d":"HFHSD","v":8.0,"hi":8.6}
  ]},
  "layer":[
   {"mark":{"type":"bar","stroke":"#000","strokeWidth":0.7},"encoding":{
     "x":{"field":"c","type":"nominal","scale":{"domain":["Chow -","Chow +","HFHSD -","HFHSD +"],"paddingInner":0.1,"paddingOuter":0.4},"axis":{"title":"CoQ₁₀","labelExpr":"slice(datum.label,-1)","labelFontSize":12,"titleX":-3,"titleY":11,"titleAlign":"right","titleBaseline":"middle"}},
     "y":{"field":"v","type":"quantitative","scale":{"domain":[0,12],"range":[127,14],"nice":false},"axis":{"values":[0,5,10],"title":["2DOG clearance rate","(p³H-2DOG dpm / g / min x 10³)"],"titleFontSize":9.5,"titleLineHeight":11}},
     "fill":{"field":"d","type":"nominal","scale":{"domain":["Chow","HFHSD"],"range":["#231f20","#5d5d5d"]},"legend":{"orient":"none","legendX":4,"legendY":0,"title":null,"symbolType":"square","symbolSize":70,"symbolStrokeColor":"#000","symbolStrokeWidth":1}}}},
   {"mark":{"type":"rule","color":"#000"},"encoding":{"x":{"field":"c","type":"nominal"},"y":{"field":"v","type":"quantitative"},"y2":{"field":"hi"}}},
   {"mark":{"type":"tick","color":"#000","size":4,"thickness":1},"encoding":{"x":{"field":"c","type":"nominal"},"y":{"field":"hi","type":"quantitative"}}},
   {"transform":[{"filter":"isValid(datum.mk)"}],"mark":{"type":"text","dy":-7,"fontSize":11,"font":"DejaVu Sans","color":"#000"},"encoding":{"x":{"field":"c","type":"nominal"},"y":{"field":"hi","type":"quantitative"},"text":{"field":"mk"}}},
   {"data":{"values":[{}]},"mark":{"type":"rule","color":"#000"},"encoding":{"x":{"datum":"HFHSD -"},"x2":{"datum":"HFHSD +"},"y":{"datum":9.3}}},
   {"data":{"values":[{}]},"mark":{"type":"text","baseline":"middle","fontSize":11,"color":"#000","text":"0.10"},"encoding":{"x":{"datum":"HFHSD -","bandPosition":1},"y":{"datum":10.6}}},
   {"data":{"values":[{}]},"mark":{"type":"text","align":"left","baseline":"middle","fontSize":12,"fontStyle":"italic","dx":-8,"color":"#000","text":"Quad."},"encoding":{"x":{"datum":"Chow -"},"y":{"datum":14.3}}}
  ]},
 {"title":{"text":"m","dx":-28,"dy":10},
  "width":85,"height":127,
  "data":{"values":[
   {"dose":"0","s":"CoQ₉","v":0.93,"hi":0.98},{"dose":"0","s":"CoQ₁₀","v":0.1,"hi":0.1},
   {"dose":"1","s":"CoQ₉","v":0.82,"hi":0.87},{"dose":"1","s":"CoQ₁₀","v":5.2,"hi":5.6,"mk":"*"},
   {"dose":"5","s":"CoQ₉","v":1.13,"hi":1.43},{"dose":"5","s":"CoQ₁₀","v":8.2,"hi":8.9,"mk":"*"},
   {"dose":"10","s":"CoQ₉","v":1.27,"hi":1.5},{"dose":"10","s":"CoQ₁₀","v":11.6,"hi":12.9,"mk":"*"}
  ]},
  "resolve":{"scale":{"y":"independent"}},
  "layer":[
   {"transform":[{"filter":"datum.s === 'CoQ₉'"}],
    "layer":[
     {"mark":{"type":"bar","stroke":"#000","strokeWidth":0.7},"encoding":{
       "x":{"field":"dose","type":"nominal","scale":{"domain":["0","1","5","10"],"paddingInner":0.15,"paddingOuter":0.1},"axis":{"title":["CoQ₁₀","(mg/kg)"],"labelFontSize":11,"titleX":-6,"titleY":7,"titleAlign":"right","titleBaseline":"top","titleLineHeight":13}},
       "xOffset":{"field":"s","type":"nominal","scale":{"domain":["CoQ₉","CoQ₁₀"],"paddingInner":0}},
       "y":{"field":"v","type":"quantitative","scale":{"domain":[0,2],"range":[127,0],"nice":false},"axis":{"values":[0,1,2],"title":"pmol CoQ₉ / µg protein"}},
       "fill":{"field":"s","type":"nominal","scale":{"domain":["CoQ₉","CoQ₁₀"],"range":["#2d6fb8","#a6d9f5"]},"legend":{"orient":"none","legendX":9,"legendY":-16,"title":null,"symbolType":"square","symbolSize":70,"symbolStrokeColor":"#000","symbolStrokeWidth":1}}}},
     {"mark":{"type":"rule","color":"#000"},"encoding":{"x":{"field":"dose","type":"nominal"},"xOffset":{"field":"s","type":"nominal"},"y":{"field":"v","type":"quantitative"},"y2":{"field":"hi"}}},
     {"mark":{"type":"tick","color":"#000","size":4,"thickness":1},"encoding":{"x":{"field":"dose","type":"nominal"},"xOffset":{"field":"s","type":"nominal"},"y":{"field":"hi","type":"quantitative"}}}
    ]},
   {"transform":[{"filter":"datum.s === 'CoQ₁₀'"}],
    "layer":[
     {"mark":{"type":"bar","stroke":"#000","strokeWidth":0.7},"encoding":{
       "x":{"field":"dose","type":"nominal"},
       "xOffset":{"field":"s","type":"nominal"},
       "y":{"field":"v","type":"quantitative","scale":{"domain":[0,15],"range":[127,0],"nice":false},"axis":{"orient":"right","values":[0,5,10,15],"title":"pmol CoQ₁₀ / µg protein","titlePadding":2}},
       "fill":{"field":"s","type":"nominal"}}},
     {"mark":{"type":"rule","color":"#000"},"encoding":{"x":{"field":"dose","type":"nominal"},"xOffset":{"field":"s","type":"nominal"},"y":{"field":"v","type":"quantitative"},"y2":{"field":"hi"}}},
     {"mark":{"type":"tick","color":"#000","size":4,"thickness":1},"encoding":{"x":{"field":"dose","type":"nominal"},"xOffset":{"field":"s","type":"nominal"},"y":{"field":"hi","type":"quantitative"}}},
     {"transform":[{"filter":"isValid(datum.mk)"}],"mark":{"type":"text","dy":-8,"fontSize":12,"font":"DejaVu Sans","color":"#000"},"encoding":{"x":{"field":"dose","type":"nominal"},"xOffset":{"field":"s","type":"nominal"},"y":{"field":"hi","type":"quantitative"},"text":{"field":"mk"}}}
    ]}
  ]}
 ]},
{"spacing":21,
 "resolve":{"scale":{"x":"independent","y":"independent","xOffset":"independent","fill":"independent","color":"independent","strokeDash":"independent","shape":"independent"}},
 "hconcat":[
 {"title":{"text":"n","dx":-60,"dy":-1},
  "width":72,"height":120,
  "data":{"values":[
   {"d":"0","t":0,"v":9},{"d":"0","t":15,"v":25.3,"lo":24.4,"hi":26.1},{"d":"0","t":30,"v":25.4,"lo":24.8,"hi":26.0},{"d":"0","t":45,"v":19.8,"lo":18.5,"hi":21.2},{"d":"0","t":60,"v":15.7,"lo":14.8,"hi":16.8},
   {"d":"1","t":0,"v":9},{"d":"1","t":15,"v":22.8,"lo":22.2,"hi":23.4},{"d":"1","t":30,"v":25.0,"lo":24.5,"hi":25.5},{"d":"1","t":45,"v":21.9,"lo":19.3,"hi":24.5},{"d":"1","t":60,"v":18.5,"lo":15.0,"hi":22.0},
   {"d":"5","t":0,"v":9},{"d":"5","t":15,"v":22.6,"lo":22.0,"hi":23.2},{"d":"5","t":30,"v":22.8,"lo":22.1,"hi":23.5},{"d":"5","t":45,"v":16.8,"lo":15.9,"hi":17.6},{"d":"5","t":60,"v":12.8,"lo":12.2,"hi":13.4},
   {"d":"10","t":0,"v":9},{"d":"10","t":15,"v":22.3,"lo":21.8,"hi":22.8,"mk":"*"},{"d":"10","t":30,"v":22.0,"lo":21.5,"hi":22.5,"mk":"*"},{"d":"10","t":45,"v":16.5,"lo":15.0,"hi":17.2},{"d":"10","t":60,"v":13.5,"lo":12.5,"hi":14.3}
  ]},
  "layer":[
   {"mark":{"type":"rule","strokeWidth":1},"encoding":{
     "x":{"field":"t","type":"quantitative","scale":{"domain":[0,60],"range":[-11,72],"nice":false},"axis":{"values":[0,20,40,60],"title":null}},
     "y":{"field":"lo","type":"quantitative","scale":{"domain":[0,28],"range":[120,1],"nice":false},"axis":{"offset":11,"values":[0,10,20],"title":"Blood glucose (mM)"}},
     "y2":{"field":"hi"},
     "color":{"field":"d","type":"nominal","scale":{"domain":["0","1","5","10"],"range":["#e8262b","#f5a13c","#5bb55b","#3b8ec8"]}}}},
   {"mark":{"type":"tick","orient":"horizontal","size":4,"thickness":1},"encoding":{"x":{"field":"t","type":"quantitative"},"y":{"field":"hi","type":"quantitative"},"color":{"field":"d","type":"nominal"}}},
   {"mark":{"type":"tick","orient":"horizontal","size":4,"thickness":1},"encoding":{"x":{"field":"t","type":"quantitative"},"y":{"field":"lo","type":"quantitative"},"color":{"field":"d","type":"nominal"}}},
   {"mark":{"type":"line","strokeWidth":1.3},"encoding":{
     "x":{"field":"t","type":"quantitative"},
     "y":{"field":"v","type":"quantitative"},
     "color":{"field":"d","type":"nominal","legend":{"orient":"none","legendX":-5,"legendY":92,"direction":"horizontal","title":"CoQ₁₀ (mg/kg)","titleFontSize":11,"titlePadding":1,"symbolType":"stroke","symbolSize":80,"symbolStrokeWidth":1.5,"labelFontSize":11,"columnPadding":3,"labelOffset":2}}}},
   {"transform":[{"filter":"isValid(datum.mk)"}],"mark":{"type":"text","dy":11,"fontSize":12,"baseline":"middle","font":"DejaVu Sans","color":"#000"},"encoding":{"x":{"field":"t","type":"quantitative"},"y":{"field":"lo","type":"quantitative"},"text":{"field":"mk"}}}
  ]},
 {"title":{"text":"o","dx":-47,"dy":-1},
  "width":72,"height":120,
  "data":{"values":[
   {"dose":"0","k":"3","v":1340},{"dose":"0","k":"5","v":1280},{"dose":"0","k":"4","v":1240},{"dose":"0","k":"1","v":1190},{"dose":"0","k":"6","v":1190},
   {"dose":"1","k":"1","v":1510},{"dose":"1","k":"2","v":1265},{"dose":"1","k":"5","v":1255},{"dose":"1","k":"4","v":1170},{"dose":"1","k":"3","v":1130},
   {"dose":"5","k":"2","v":1175},{"dose":"5","k":"5","v":1140},{"dose":"5","k":"1","v":1060},{"dose":"5","k":"3","v":1035},{"dose":"5","k":"6","v":1035},
   {"dose":"10","k":"2","v":1195},{"dose":"10","k":"5","v":1110},{"dose":"10","k":"4","v":1060},{"dose":"10","k":"3","v":920}
  ]},
  "layer":[
   {"mark":{"type":"circle","size":10,"opacity":1,"color":"#e3222a"},"encoding":{
     "x":{"field":"dose","type":"nominal","scale":{"domain":["0","1","5","10"],"paddingInner":0,"paddingOuter":0},"axis":{"title":["CoQ₁₀","(mg/kg)"],"titleX":-6,"titleY":7,"titleAlign":"right","titleBaseline":"top","titleLineHeight":13}},
     "xOffset":{"field":"k","type":"nominal","scale":{"domain":["1","2","3","4","5","6"],"paddingOuter":0.3}},
     "y":{"field":"v","type":"quantitative","scale":{"domain":[800,1550],"range":[120,0],"nice":false,"zero":false},"axis":{"values":[800,1000,1200,1400],"format":"d","title":"iAUC (mM.Min)"}}}},
   {"data":{"values":[
     {"dose":"0","m":1245,"lo":1215,"hi":1275},{"dose":"1","m":1260,"lo":1195,"hi":1325},{"dose":"5","m":1090,"lo":1060,"hi":1120,"mk":"*","mt":1262},{"dose":"10","m":1085,"lo":1035,"hi":1135,"mk":"*","mt":1290}]},
    "layer":[
     {"mark":{"type":"tick","size":16,"thickness":1.3,"color":"#333"},"encoding":{"x":{"field":"dose","type":"nominal"},"y":{"field":"m","type":"quantitative"}}},
     {"mark":{"type":"rule","color":"#333"},"encoding":{"x":{"field":"dose","type":"nominal"},"y":{"field":"lo","type":"quantitative"},"y2":{"field":"hi"}}},
     {"mark":{"type":"tick","size":8,"thickness":1,"color":"#333"},"encoding":{"x":{"field":"dose","type":"nominal"},"y":{"field":"lo","type":"quantitative"}}},
     {"mark":{"type":"tick","size":8,"thickness":1,"color":"#333"},"encoding":{"x":{"field":"dose","type":"nominal"},"y":{"field":"hi","type":"quantitative"}}},
     {"transform":[{"filter":"isValid(datum.mk)"}],"mark":{"type":"text","fontSize":12,"baseline":"middle","font":"DejaVu Sans","color":"#000"},"encoding":{"x":{"field":"dose","type":"nominal"},"y":{"field":"mt","type":"quantitative"},"text":{"field":"mk"}}}
    ]}
  ]},
 {"title":{"text":"p","dx":-38,"dy":-1},
  "width":85,"height":120,
  "data":{"values":[
   {"dose":"0","k":"1","v":31.1},{"dose":"0","k":"4","v":30.9},{"dose":"0","k":"5","v":31.0},{"dose":"0","k":"3","v":30.0},{"dose":"0","k":"2","v":26.5},
   {"dose":"1","k":"4","v":31.8},{"dose":"1","k":"3","v":30.4},{"dose":"1","k":"2","v":29.7},{"dose":"1","k":"5","v":29.6},{"dose":"1","k":"4","v":27.2},
   {"dose":"5","k":"4","v":32.8},{"dose":"5","k":"3","v":31.7},{"dose":"5","k":"2","v":30.4},{"dose":"5","k":"2","v":28.8},{"dose":"5","k":"5","v":28.8},
   {"dose":"10","k":"3","v":32.5},{"dose":"10","k":"5","v":31.6},{"dose":"10","k":"4","v":31.2},{"dose":"10","k":"2","v":31.1},{"dose":"10","k":"3","v":27.9}
  ]},
  "layer":[
   {"mark":{"type":"circle","size":10,"opacity":1,"color":"#e3222a"},"encoding":{
     "x":{"field":"dose","type":"nominal","scale":{"domain":["0","1","5","10"],"paddingInner":0,"paddingOuter":0},"axis":{"title":["CoQ₁₀","(mg/kg)"],"titleX":-6,"titleY":7,"titleAlign":"right","titleBaseline":"top","titleLineHeight":13}},
     "xOffset":{"field":"k","type":"nominal","scale":{"domain":["1","2","3","4","5","6"],"paddingOuter":0.3}},
     "y":{"field":"v","type":"quantitative","scale":{"domain":[24,34],"range":[120,15],"nice":false,"zero":false},"axis":{"values":[24,26,28,30,32,34],"title":"Body mass (g)"}}}},
   {"data":{"values":[
     {"dose":"0","m":29.9,"lo":29.0,"hi":30.8},{"dose":"1","m":29.7,"lo":28.9,"hi":30.5},{"dose":"5","m":30.5,"lo":29.7,"hi":31.3},{"dose":"10","m":30.9,"lo":30.1,"hi":31.6}]},
    "layer":[
     {"mark":{"type":"tick","size":16,"thickness":1.3,"color":"#333"},"encoding":{"x":{"field":"dose","type":"nominal"},"y":{"field":"m","type":"quantitative"}}},
     {"mark":{"type":"rule","color":"#333"},"encoding":{"x":{"field":"dose","type":"nominal"},"y":{"field":"lo","type":"quantitative"},"y2":{"field":"hi"}}},
     {"mark":{"type":"tick","size":8,"thickness":1,"color":"#333"},"encoding":{"x":{"field":"dose","type":"nominal"},"y":{"field":"lo","type":"quantitative"}}},
     {"mark":{"type":"tick","size":8,"thickness":1,"color":"#333"},"encoding":{"x":{"field":"dose","type":"nominal"},"y":{"field":"hi","type":"quantitative"}}}
    ]}
  ]},
 {"title":{"text":"q","dx":-47,"dy":-1},
  "width":85,"height":120,
  "data":{"values":[
   {"dose":"0","k":"3","v":1.05},{"dose":"0","k":"5","v":1.05},{"dose":"0","k":"1","v":0.81},{"dose":"0","k":"6","v":0.78},{"dose":"0","k":"4","v":0.74},
   {"dose":"1","k":"4","v":1.07},{"dose":"1","k":"3","v":0.97},{"dose":"1","k":"2","v":0.72},{"dose":"1","k":"5","v":0.7},{"dose":"1","k":"3","v":0.62},
   {"dose":"5","k":"3","v":1.07},{"dose":"5","k":"4","v":0.86},{"dose":"5","k":"4","v":0.76},{"dose":"5","k":"5","v":0.53},{"dose":"5","k":"2","v":0.47},
   {"dose":"10","k":"1","v":0.93},{"dose":"10","k":"5","v":0.93},{"dose":"10","k":"3","v":0.8},{"dose":"10","k":"6","v":0.46},{"dose":"10","k":"2","v":0.43}
  ]},
  "layer":[
   {"mark":{"type":"circle","size":10,"opacity":1,"color":"#e3222a"},"encoding":{
     "x":{"field":"dose","type":"nominal","scale":{"domain":["0","1","5","10"],"paddingInner":0,"paddingOuter":0},"axis":{"title":["CoQ₁₀","(mg/kg)"],"titleX":-6,"titleY":7,"titleAlign":"right","titleBaseline":"top","titleLineHeight":13}},
     "xOffset":{"field":"k","type":"nominal","scale":{"domain":["1","2","3","4","5","6"],"paddingOuter":0.3}},
     "y":{"field":"v","type":"quantitative","scale":{"domain":[0,1.23],"range":[120,15],"nice":false},"axis":{"values":[0,0.5,1],"format":".1f","title":"Epididymal fat mass (g)"}}}},
   {"data":{"values":[
     {"dose":"0","m":0.88,"lo":0.82,"hi":0.95},{"dose":"1","m":0.8,"lo":0.71,"hi":0.89},{"dose":"5","m":0.74,"lo":0.63,"hi":0.85},{"dose":"10","m":0.71,"lo":0.6,"hi":0.82}]},
    "layer":[
     {"mark":{"type":"tick","size":16,"thickness":1.3,"color":"#333"},"encoding":{"x":{"field":"dose","type":"nominal"},"y":{"field":"m","type":"quantitative"}}},
     {"mark":{"type":"rule","color":"#333"},"encoding":{"x":{"field":"dose","type":"nominal"},"y":{"field":"lo","type":"quantitative"},"y2":{"field":"hi"}}},
     {"mark":{"type":"tick","size":8,"thickness":1,"color":"#333"},"encoding":{"x":{"field":"dose","type":"nominal"},"y":{"field":"lo","type":"quantitative"}}},
     {"mark":{"type":"tick","size":8,"thickness":1,"color":"#333"},"encoding":{"x":{"field":"dose","type":"nominal"},"y":{"field":"hi","type":"quantitative"}}}
    ]}
  ]}
 ]}
]
}
